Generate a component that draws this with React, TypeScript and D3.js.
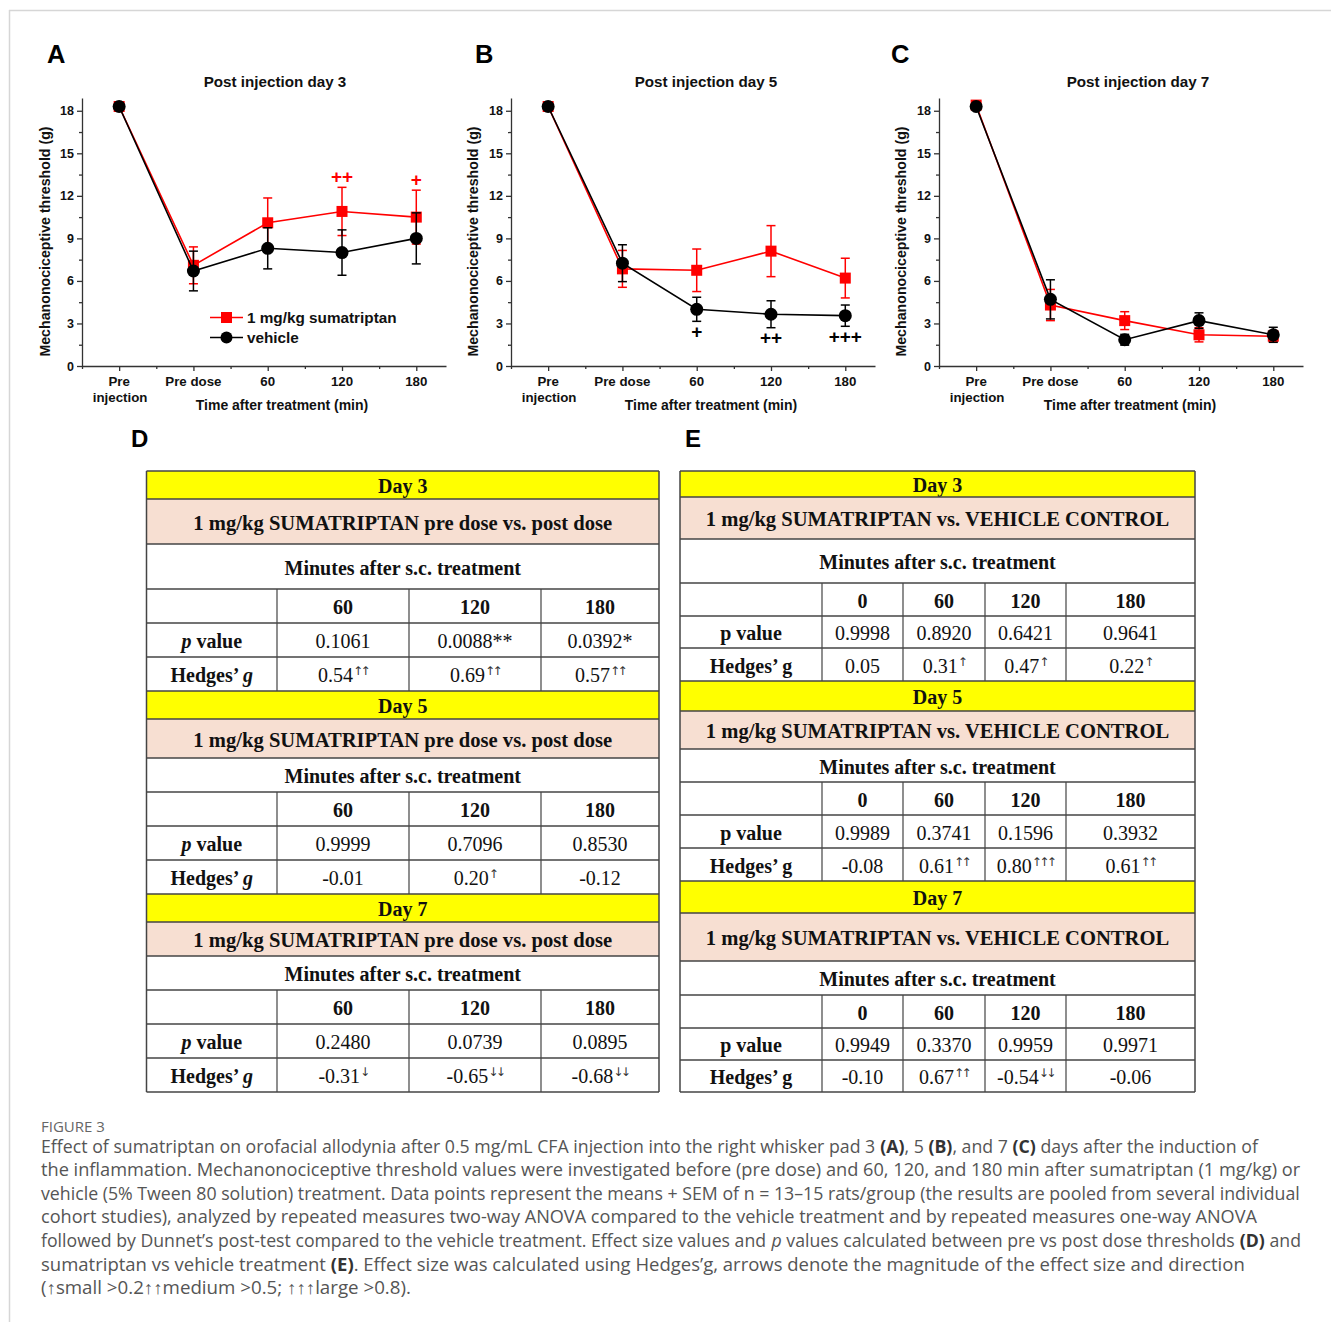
import React, { useEffect, useRef } from 'react';
import * as d3 from 'd3';

// time points on the x axis
const timePoints = ['Pre injection', 'Pre dose', '60', '120', '180'];
const yTicks = [0, 3, 6, 9, 12, 15, 18];
const yMinorTicks = [1.5, 4.5, 7.5, 10.5, 13.5, 16.5];
const seriesNames = ['1 mg/kg sumatriptan', 'vehicle'];

// mean thresholds (g) and SEM
const day3Sumatriptan = [18.3, 7.1, 10.1, 10.9, 10.5];
const day3SumatriptanSem = [0.1, 1.3, 1.75, 1.7, 1.9];
const day3Vehicle = [18.3, 6.7, 8.3, 8.0, 9.0];
const day3VehicleSem = [0.1, 1.4, 1.45, 1.6, 1.8];
const day3SumatriptanMarks = ['', '', '', '++', '+'];
const day3VehicleMarks = ['', '', '', '', ''];

const day5Sumatriptan = [18.3, 6.85, 6.75, 8.1, 6.2];
const day5SumatriptanSem = [0.1, 1.3, 1.5, 1.8, 1.4];
const day5Vehicle = [18.3, 7.25, 4.0, 3.65, 3.55];
const day5VehicleSem = [0.1, 1.3, 0.85, 0.95, 0.75];
const day5SumatriptanMarks = ['', '', '', '', ''];
const day5VehicleMarks = ['', '', '+', '++', '+++'];

const day7Sumatriptan = [18.4, 4.3, 3.2, 2.2, 2.1];
const day7SumatriptanSem = [0.1, 1.1, 0.63, 0.5, 0.4];
const day7Vehicle = [18.3, 4.7, 1.85, 3.2, 2.2];
const day7VehicleSem = [0.1, 1.38, 0.38, 0.55, 0.53];
const day7SumatriptanMarks = ['', '', '', '', ''];
const day7VehicleMarks = ['', '', '', '', ''];

// tables
const dayLabels = ['Day 3', 'Day 5', 'Day 7'];
const minutesLabel = 'Minutes after s.c. treatment';

const tableDTitle = '1 mg/kg SUMATRIPTAN pre dose vs. post dose';
const tableDColumns = ['60', '120', '180'];
const tableDPValues = [
  ['0.1061', '0.0088**', '0.0392*'],
  ['0.9999', '0.7096', '0.8530'],
  ['0.2480', '0.0739', '0.0895'],
];
const tableDHedges = [
  ['0.54', '0.69', '0.57'],
  ['-0.01', '0.20', '-0.12'],
  ['-0.31', '-0.65', '-0.68'],
];
const tableDArrows = [
  ['↑↑', '↑↑', '↑↑'],
  ['', '↑', ''],
  ['↓', '↓↓', '↓↓'],
];

const tableETitle = '1 mg/kg SUMATRIPTAN vs. VEHICLE CONTROL';
const tableEColumns = ['0', '60', '120', '180'];
const tableEPValues = [
  ['0.9998', '0.8920', '0.6421', '0.9641'],
  ['0.9989', '0.3741', '0.1596', '0.3932'],
  ['0.9949', '0.3370', '0.9959', '0.9971'],
];
const tableEHedges = [
  ['0.05', '0.31', '0.47', '0.22'],
  ['-0.08', '0.61', '0.80', '0.61'],
  ['-0.10', '0.67', '-0.54', '-0.06'],
];
const tableEArrows = [
  ['', '↑', '↑', '↑'],
  ['', '↑↑', '↑↑↑', '↑↑'],
  ['', '↑↑', '↓↓', ''],
];

const captionHead = 'FIGURE 3';
const captionLines = [
  [['Effect of sumatriptan on orofacial allodynia after 0.5 mg/mL CFA injection into the right whisker pad 3 ', ''], ['(A)', 'b'], [', 5 ', ''], ['(B)', 'b'], [', and 7 ', ''], ['(C)', 'b'], [' days after the induction of', '']],
  [['the inflammation. Mechanonociceptive threshold values were investigated before (pre dose) and 60, 120, and 180 min after sumatriptan (1 mg/kg) or', '']],
  [['vehicle (5% Tween 80 solution) treatment. Data points represent the means + SEM of n = 13–15 rats/group (the results are pooled from several individual', '']],
  [['cohort studies), analyzed by repeated measures two-way ANOVA compared to the vehicle treatment and by repeated measures one-way ANOVA', '']],
  [['followed by Dunnet’s post-test compared to the vehicle treatment. Effect size values and ', ''], ['p', 'i'], [' values calculated between pre vs post dose thresholds ', ''], ['(D)', 'b'], [' and', '']],
  [['sumatriptan vs vehicle treatment ', ''], ['(E)', 'b'], ['. Effect size was calculated using Hedges’g, arrows denote the magnitude of the effect size and direction', '']],
  [['(↑small >0.2↑↑medium >0.5; ↑↑↑large >0.8).', '']],
];

const sans = "'Liberation Sans', Arial, sans-serif";
const serif = "'Liberation Serif', 'Times New Roman', serif";

const App = () => {
  const svgRef = useRef(null);

  useEffect(() => {
    const svg = d3.select(svgRef.current);
    svg.selectAll('*').remove();

    // frame lines
    svg.append('line').attr('x1', 9).attr('x2', 1331).attr('y1', 10.5).attr('y2', 10.5)
      .attr('stroke', '#d6d6d6').attr('stroke-width', 1.5);
    svg.append('line').attr('x1', 9.5).attr('x2', 9.5).attr('y1', 10).attr('y2', 1322)
      .attr('stroke', '#d6d6d6').attr('stroke-width', 1.5);

    const panels = [
      { label: 'A', lx: 47, title: 'Post injection day 3', left: 82, titleX: 275, axisTitleX: 282, yTitleX: 45,
        s: day3Sumatriptan, sSem: day3SumatriptanSem, v: day3Vehicle, vSem: day3VehicleSem,
        sMarks: day3SumatriptanMarks, vMarks: day3VehicleMarks, legend: true },
      { label: 'B', lx: 475, title: 'Post injection day 5', left: 511, titleX: 706, axisTitleX: 711, yTitleX: 473,
        s: day5Sumatriptan, sSem: day5SumatriptanSem, v: day5Vehicle, vSem: day5VehicleSem,
        sMarks: day5SumatriptanMarks, vMarks: day5VehicleMarks, legend: false },
      { label: 'C', lx: 891, title: 'Post injection day 7', left: 939, titleX: 1138, axisTitleX: 1130, yTitleX: 901,
        s: day7Sumatriptan, sSem: day7SumatriptanSem, v: day7Vehicle, vSem: day7VehicleSem,
        sMarks: day7SumatriptanMarks, vMarks: day7VehicleMarks, legend: false },
    ];

    panels.forEach(p => {
      const g = svg.append('g');
      const x = d3.scaleLinear().domain([-0.5, 4.4]).range([p.left, p.left + 364]);
      const y = d3.scaleLinear().domain([0, 18.9]).range([366, 98]);

      g.append('text').attr('x', p.lx).attr('y', 62.5).attr('font-family', sans).attr('font-weight', 'bold')
        .attr('font-size', 25.5).attr('fill', '#000').text(p.label);
      g.append('text').attr('x', p.titleX).attr('y', 81.5).attr('dominant-baseline', 'central')
        .attr('text-anchor', 'middle').attr('font-family', sans).attr('font-weight', 'bold')
        .attr('font-size', 15.2).attr('fill', '#111').text(p.title);

      // axes
      const axisStyle = sel => {
        sel.attr('color', '#333');
        sel.selectAll('line, path').attr('stroke-width', 1.3);
        sel.selectAll('text').attr('font-family', sans).attr('font-weight', 'bold')
          .attr('font-size', 12.5).attr('fill', '#111');
      };
      g.append('g').attr('transform', `translate(${p.left},0)`)
        .call(d3.axisLeft(y).tickValues(yTicks).tickSize(5).tickSizeOuter(0).tickPadding(3).tickFormat(d3.format('d')))
        .call(axisStyle);
      g.append('g').attr('transform', `translate(${p.left},0)`)
        .call(d3.axisLeft(y).tickValues(yMinorTicks).tickSize(3).tickFormat(() => ''))
        .call(a => a.select('.domain').remove())
        .call(axisStyle);
      g.append('g').attr('transform', 'translate(0,366)')
        .call(d3.axisBottom(x).tickValues(d3.range(timePoints.length)).tickSize(5).tickSizeOuter(0).tickFormat(() => ''))
        .call(axisStyle);
      g.append('g').attr('transform', 'translate(0,366)')
        .call(d3.axisBottom(x).tickValues(d3.range(timePoints.length).map(i => i - 0.5)).tickSize(3).tickFormat(() => ''))
        .call(a => a.select('.domain').remove())
        .call(axisStyle);

      timePoints.forEach((t, i) => {
        const lines = t === 'Pre injection' ? ['Pre', 'injection'] : [t];
        lines.forEach((ln, k) => {
          g.append('text').attr('x', x(i) + (k === 1 ? 1 : 0)).attr('y', 381 + k * 16)
            .attr('dominant-baseline', 'central').attr('text-anchor', 'middle')
            .attr('font-family', sans).attr('font-weight', 'bold').attr('font-size', 13.3)
            .attr('fill', '#111').text(ln);
        });
      });

      g.append('text').attr('x', p.axisTitleX).attr('y', 404.5).attr('dominant-baseline', 'central')
        .attr('text-anchor', 'middle').attr('font-family', sans).attr('font-weight', 'bold')
        .attr('font-size', 14).attr('fill', '#111').text('Time after treatment (min)');
      g.append('text').attr('transform', `translate(${p.yTitleX},241.5) rotate(-90)`)
        .attr('dominant-baseline', 'central').attr('text-anchor', 'middle')
        .attr('font-family', sans).attr('font-weight', 'bold').attr('font-size', 14.2)
        .attr('fill', '#111').text('Mechanonociceptive threshold (g)');

      const line = d3.line().x((d, i) => x(i)).y(d => y(d));
      const series = [
        { vals: p.s, sem: p.sSem, marks: p.sMarks, color: '#ff0000', shape: 'square' },
        { vals: p.v, sem: p.vSem, marks: p.vMarks, color: '#000000', shape: 'circle' },
      ];
      series.forEach(s => {
        const sg = g.append('g');
        sg.append('path').datum(s.vals).attr('d', line).attr('fill', 'none')
          .attr('stroke', s.color).attr('stroke-width', 1.6);
        s.vals.forEach((v, i) => {
          const top = y(v + s.sem[i]);
          const bot = y(v - s.sem[i]);
          sg.append('line').attr('x1', x(i)).attr('x2', x(i)).attr('y1', top).attr('y2', bot)
            .attr('stroke', s.color).attr('stroke-width', 1.5);
          [top, bot].forEach(cy => {
            sg.append('line').attr('x1', x(i) - 4.5).attr('x2', x(i) + 4.5).attr('y1', cy).attr('y2', cy)
              .attr('stroke', s.color).attr('stroke-width', 1.5);
          });
        });
        s.vals.forEach((v, i) => {
          if (s.shape === 'square') {
            sg.append('rect').attr('x', x(i) - 5.5).attr('y', y(v) - 5.5).attr('width', 11).attr('height', 11)
              .attr('fill', s.color);
          } else {
            sg.append('circle').attr('cx', x(i)).attr('cy', y(v)).attr('r', 6.5).attr('fill', s.color);
          }
        });
        s.marks.forEach((m, i) => {
          if (!m) return;
          const v = s.vals[i];
          const above = s.shape === 'square';
          const ty = above ? y(v + s.sem[i]) - 11 : y(v - s.sem[i]) + 10;
          sg.append('text').attr('x', x(i)).attr('y', ty).attr('dominant-baseline', 'central')
            .attr('text-anchor', 'middle').attr('font-family', sans).attr('font-weight', 'bold')
            .attr('font-size', 19).attr('fill', s.color).text(m);
        });
      });

      if (p.legend) {
        const lg = g.append('g');
        series.forEach((s, k) => {
          const ly = 317.5 + k * 20;
          lg.append('line').attr('x1', 210).attr('x2', 243).attr('y1', ly).attr('y2', ly)
            .attr('stroke', s.color).attr('stroke-width', 1.6);
          if (s.shape === 'square') {
            lg.append('rect').attr('x', 221).attr('y', ly - 5.5).attr('width', 11).attr('height', 11).attr('fill', s.color);
          } else {
            lg.append('circle').attr('cx', 226.5).attr('cy', ly).attr('r', 6).attr('fill', s.color);
          }
          lg.append('text').attr('x', 247).attr('y', ly).attr('dominant-baseline', 'central')
            .attr('font-family', sans).attr('font-weight', 'bold').attr('font-size', 15.3)
            .attr('fill', '#111').text(seriesNames[k]);
        });
      }
    });

    // panel labels for the tables
    [['D', 131], ['E', 685]].forEach(([t, lx]) => {
      svg.append('text').attr('x', lx).attr('y', 446.5).attr('font-family', sans).attr('font-weight', 'bold')
        .attr('font-size', 24).attr('fill', '#000').text(t);
    });

    const drawTable = cfg => {
      const g = svg.append('g');
      const { cols, rows, columns, title, pValues, hedges, arrows, italic } = cfg;
      const left = cols[0];
      const right = cols[cols.length - 1];
      const midX = (left + right) / 2;
      const cellX = k => (cols[k] + cols[k + 1]) / 2;
      const txt = (xx, yy, bold) => g.append('text').attr('x', xx).attr('y', yy)
        .attr('dominant-baseline', 'central').attr('text-anchor', 'middle')
        .attr('font-family', serif).attr('font-size', 20).attr('fill', '#111')
        .attr('font-weight', bold ? 'bold' : 'normal');

      dayLabels.forEach((day, si) => {
        const r = rows.slice(si * 6, si * 6 + 7);
        const cy = k => (r[k] + r[k + 1]) / 2 + 1;
        g.append('rect').attr('x', left).attr('y', r[0]).attr('width', right - left).attr('height', r[1] - r[0])
          .attr('fill', '#ffff00');
        g.append('rect').attr('x', left).attr('y', r[1]).attr('width', right - left).attr('height', r[2] - r[1])
          .attr('fill', '#f7dfd2');
        txt(midX, cy(0), true).text(day);
        txt(midX, cy(1), true).attr('font-size', 20.6).text(title);
        txt(midX, cy(2), true).text(minutesLabel);
        columns.forEach((c, k) => txt(cellX(k + 1), cy(3), true).text(c));

        const pl = txt(cellX(0), cy(4), true);
        pl.append('tspan').attr('font-style', italic ? 'italic' : 'normal').text('p');
        pl.append('tspan').text(' value');
        const hl = txt(cellX(0), cy(5), true);
        hl.append('tspan').text('Hedges’ ');
        hl.append('tspan').attr('font-style', italic ? 'italic' : 'normal').text('g');

        pValues[si].forEach((v, k) => txt(cellX(k + 1), cy(4), false).text(v));
        hedges[si].forEach((v, k) => {
          const t = txt(cellX(k + 1), cy(5), false);
          t.append('tspan').text(v);
          if (arrows[si][k]) {
            t.append('tspan').attr('font-family', "'DejaVu Sans', sans-serif").attr('font-size', 12)
              .attr('letter-spacing', -2.5).attr('dy', -4).attr('fill', '#333')
              .text(arrows[si][k]);
          }
        });

        // inner column lines for header, p value and Hedges rows
        cols.slice(1, -1).forEach(cx => {
          g.append('line').attr('x1', cx).attr('x2', cx).attr('y1', r[3]).attr('y2', r[6])
            .attr('stroke', '#444').attr('stroke-width', 1.2);
        });
      });

      rows.forEach(ry => {
        g.append('line').attr('x1', left).attr('x2', right).attr('y1', ry).attr('y2', ry)
          .attr('stroke', '#444').attr('stroke-width', 1.3);
      });
      [left, right].forEach(cx => {
        g.append('line').attr('x1', cx).attr('x2', cx).attr('y1', rows[0]).attr('y2', rows[rows.length - 1])
          .attr('stroke', '#444').attr('stroke-width', 1.5);
      });
    };

    drawTable({
      cols: [146.5, 277, 409, 541, 659],
      rows: [471, 499, 544, 589, 623, 657, 691, 719, 758, 792, 826, 860, 894, 922, 956, 990, 1024, 1058, 1092],
      columns: tableDColumns, title: tableDTitle, pValues: tableDPValues, hedges: tableDHedges,
      arrows: tableDArrows, italic: true,
    });
    drawTable({
      cols: [680, 822, 903, 985, 1066, 1195],
      rows: [471, 497, 539, 583, 616, 648, 681, 711, 749, 782, 815, 848, 881, 913, 961, 995, 1028, 1060, 1092],
      columns: tableEColumns, title: tableETitle, pValues: tableEPValues, hedges: tableEHedges,
      arrows: tableEArrows, italic: false,
    });

    // caption: each line is laid out segment by segment, then squeezed to the measured width
    const capFont = "'Open Sans', 'Noto Sans', sans-serif";
    const fitLine = (segs, yy, target, size, color) => {
      const lg = svg.append('g');
      let cx = 0;
      segs.forEach(([s, st]) => {
        const t = lg.append('text').attr('x', cx).attr('y', 0).attr('dominant-baseline', 'central')
          .attr('font-family', capFont).attr('font-size', size).attr('fill', color)
          .style('white-space', 'pre').text(s);
        if (st === 'b') t.attr('font-weight', 'bold').attr('fill', '#333');
        if (st === 'i') t.attr('font-style', 'italic');
        const node = t.node();
        cx += node && node.getComputedTextLength ? node.getComputedTextLength() : s.length * size * 0.5;
      });
      const sx = target && cx ? target / cx : 1;
      lg.attr('transform', `translate(41,${yy}) scale(${sx},1)`);
    };
    fitLine([[captionHead, '']], 1126, 64, 15, '#666');
    const capWidths = [1217, 1260, 1260, 1217, 1260, 1204, 370];
    captionLines.forEach((segs, li) => {
      fitLine(segs, 1145.5 + li * 23.6, capWidths[li], 18, '#555');
    });
  }, []);

  return (
    <svg ref={svgRef} width={1331} height={1322}
      style={{ position: 'absolute', left: 0, top: 0, background: '#fff' }} />
  );
};

export default App;
